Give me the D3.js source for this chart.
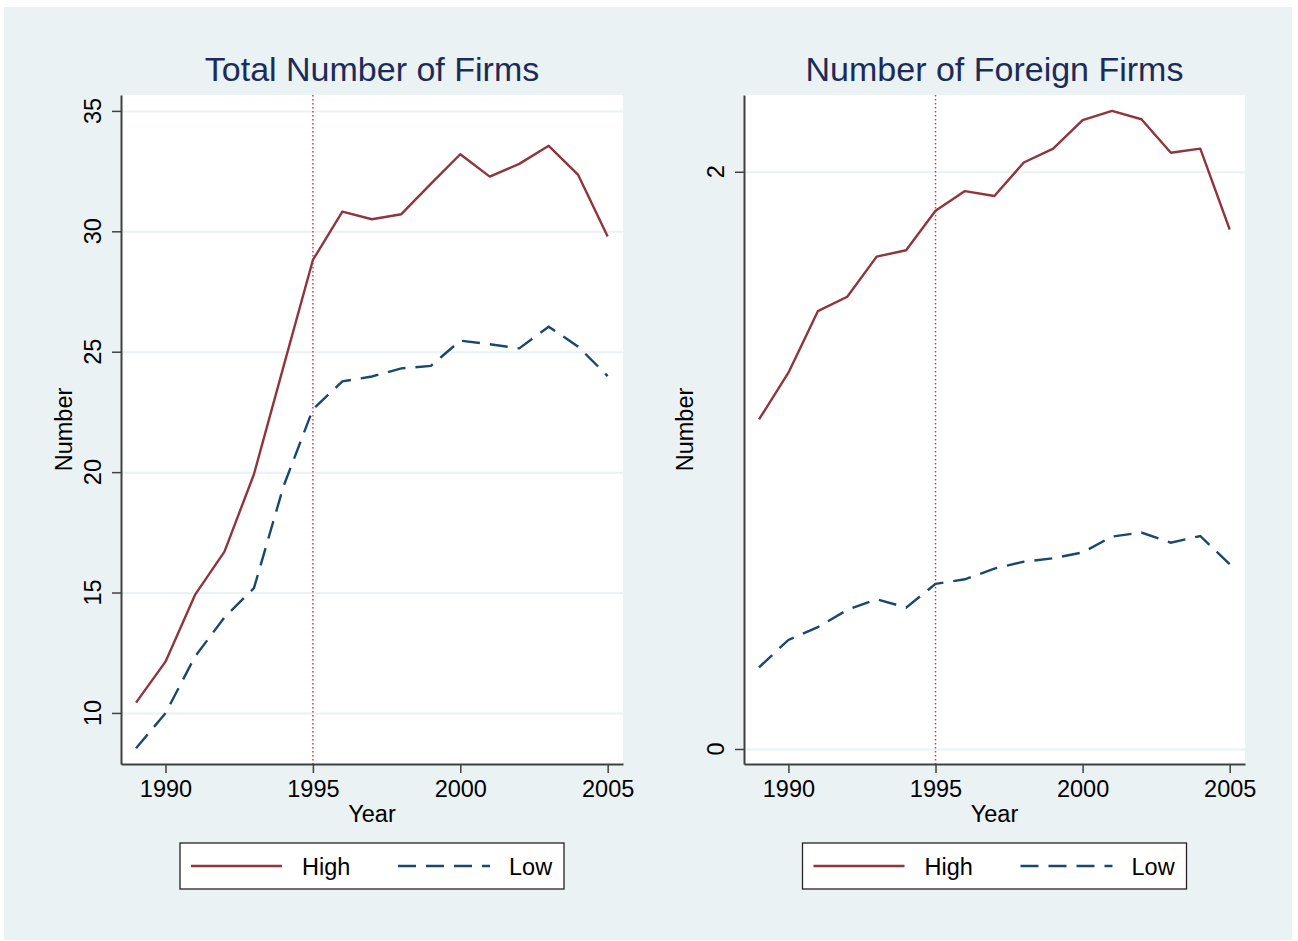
<!DOCTYPE html>
<html>
<head>
<meta charset="utf-8">
<script src="https://cdn.jsdelivr.net/npm/d3@7"></script>
<style>
  html, body { margin: 0; padding: 0; background: #fff; }
  svg text { font-family: "Liberation Sans", Arial, sans-serif; fill: #000; }
</style>
</head>
<body>
<svg id="chart" width="1298" height="941"></svg>
<script>
// ---------- Data ----------
const YEARS = [1989,1990,1991,1992,1993,1994,1995,1996,1997,1998,1999,2000,2001,2002,2003,2004,2005];

const TOTAL_HIGH = [10.43,12.13,14.9,16.7,19.91,24.37,28.81,30.82,30.5,30.71,31.97,33.2,32.27,32.8,33.55,32.34,29.78];
const TOTAL_LOW  = [8.53,9.99,12.34,13.97,15.18,19.4,22.61,23.77,23.97,24.31,24.41,25.46,25.31,25.14,26.04,25.21,23.99];

const FOREIGN_HIGH = [1.142,1.304,1.517,1.567,1.706,1.728,1.865,1.933,1.916,2.032,2.08,2.179,2.211,2.182,2.066,2.08,1.8];
const FOREIGN_LOW  = [0.283,0.378,0.422,0.482,0.519,0.49,0.572,0.588,0.625,0.649,0.661,0.681,0.736,0.75,0.715,0.738,0.64];

const X_TICKS = [1990,1995,2000,2005];
const TOTAL_Y_TICKS = [10,15,20,25,30,35];
const FOREIGN_Y_TICKS = [0,2];
const MARK_YEAR = 1995;

const SERIES_NAMES = ["High","Low"];

// ---------- Styles ----------
const BG = "#eaf2f3";
const COL_HIGH = "#90353b";
const COL_LOW = "#1a476f";
const TITLE_COL = "#1c2b57";
const AXIS_COL = "#404040";
const DASH_LOW = "18,10";
const FS = 23.5;

const svg = d3.select("#chart");

// outer graph region
svg.append("rect")
  .attr("x", 4).attr("y", 7)
  .attr("width", 1288).attr("height", 933)
  .attr("fill", BG);

drawPanel({
  left: 121, right: 623, top: 95, bottom: 764,
  yDomain: [7.88, 35.66],
  yTicks: TOTAL_Y_TICKS,
  high: TOTAL_HIGH, low: TOTAL_LOW,
  title: "Total Number of Firms",
  titleOffset: 49
});

drawPanel({
  left: 744, right: 1245, top: 95, bottom: 764,
  yDomain: [-0.052, 2.266],
  yTicks: FOREIGN_Y_TICKS,
  high: FOREIGN_HIGH, low: FOREIGN_LOW,
  title: "Number of Foreign Firms",
  titleOffset: 51
});

// ---------- Panel ----------
function drawPanel({ left, right, top, bottom, yDomain, yTicks, high, low, title, titleOffset }) {
  const g = svg.append("g");
  const cx = (left + right) / 2;

  const x = d3.scaleLinear().domain([1988.49, 2005.52]).range([left, right]);
  const y = d3.scaleLinear().domain(yDomain).range([bottom, top]);

  // plot region
  g.append("rect")
    .attr("x", left).attr("y", top)
    .attr("width", right - left).attr("height", bottom - top)
    .attr("fill", "#fff");

  // gridlines
  g.append("g")
    .attr("transform", `translate(${left},0)`)
    .call(d3.axisLeft(y).tickValues(yTicks).tickSize(-(right - left)).tickFormat(""))
    .call(s => s.select(".domain").remove())
    .selectAll("line").attr("stroke", BG).attr("stroke-width", 2);

  // 1995 marker
  g.append("line")
    .attr("x1", x(MARK_YEAR)).attr("x2", x(MARK_YEAR))
    .attr("y1", top).attr("y2", bottom)
    .attr("stroke", "#e5304f")
    .attr("stroke-width", 1.5)
    .attr("stroke-dasharray", "1.5,2.5");

  const line = d3.line()
    .x((d, i) => x(YEARS[i]))
    .y(d => y(d));

  g.append("path")
    .attr("d", line(high))
    .attr("fill", "none")
    .attr("stroke", COL_HIGH)
    .attr("stroke-width", 2.4)
    .attr("stroke-linejoin", "round");

  g.append("path")
    .attr("d", line(low))
    .attr("fill", "none")
    .attr("stroke", COL_LOW)
    .attr("stroke-width", 2.4)
    .attr("stroke-dasharray", DASH_LOW);

  // axes
  const xAxis = g.append("g")
    .attr("transform", `translate(0,${bottom})`)
    .call(d3.axisBottom(x).tickValues(X_TICKS).tickFormat(d3.format("d"))
      .tickSize(9).tickPadding(4).tickSizeOuter(0));
  xAxis.select(".domain").attr("stroke", AXIS_COL).attr("stroke-width", 2);
  xAxis.selectAll("line").attr("stroke", AXIS_COL).attr("stroke-width", 1.5);
  xAxis.selectAll("text")
    .attr("font-size", FS)
    .attr("font-family", "Liberation Sans, Arial, sans-serif")
    .attr("fill", "#000")
    .attr("dy", "0.85em");

  const yAxis = g.append("g")
    .attr("transform", `translate(${left},0)`)
    .call(d3.axisLeft(y).tickValues(yTicks).tickSize(9).tickSizeOuter(0).tickFormat(""));
  yAxis.select(".domain").attr("stroke", AXIS_COL).attr("stroke-width", 2);
  yAxis.selectAll("line").attr("stroke", AXIS_COL).attr("stroke-width", 1.5);

  // rotated y tick labels (Stata style)
  g.append("g").selectAll("text")
    .data(yTicks)
    .join("text")
      .attr("transform", d => `translate(${left - 20},${y(d)}) rotate(-90)`)
      .attr("text-anchor", "middle")
      .attr("font-size", FS)
      .text(d => d);

  // axis titles
  g.append("text")
    .attr("transform", `translate(${left - titleOffset},${(top + bottom) / 2}) rotate(-90)`)
    .attr("text-anchor", "middle")
    .attr("font-size", FS)
    .text("Number");

  g.append("text")
    .attr("x", cx).attr("y", 822)
    .attr("text-anchor", "middle")
    .attr("font-size", FS)
    .text("Year");

  // panel title
  g.append("text")
    .attr("x", cx).attr("y", 81)
    .attr("text-anchor", "middle")
    .attr("font-size", 34)
    .style("fill", TITLE_COL)
    .text(title);

  // legend
  const lx = cx - 192, ly = 843;
  const lg = g.append("g").attr("transform", `translate(${lx},${ly})`);
  lg.append("rect")
    .attr("width", 384).attr("height", 46)
    .attr("fill", "#fff")
    .attr("stroke", "#222").attr("stroke-width", 1.3);

  const items = [
    { name: SERIES_NAMES[0], color: COL_HIGH, dash: null, x0: 11, x1: 102, tx: 122 },
    { name: SERIES_NAMES[1], color: COL_LOW, dash: DASH_LOW, x0: 218, x1: 310, tx: 329 }
  ];
  items.forEach(it => {
    lg.append("line")
      .attr("x1", it.x0).attr("x2", it.x1)
      .attr("y1", 23).attr("y2", 23)
      .attr("stroke", it.color)
      .attr("stroke-width", 2.4)
      .attr("stroke-dasharray", it.dash);
    lg.append("text")
      .attr("x", it.tx).attr("y", 32)
      .attr("font-size", FS)
      .text(it.name);
  });
}
</script>
</body>
</html>
